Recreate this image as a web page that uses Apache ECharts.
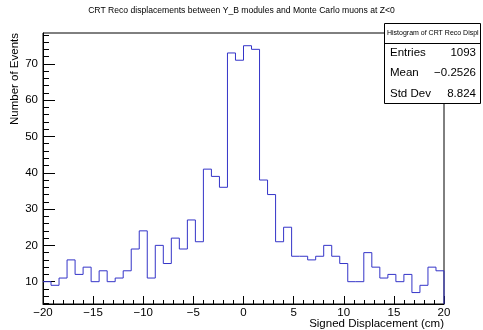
<!DOCTYPE html>
<html>
<head>
<meta charset="utf-8">
<script src="https://cdn.jsdelivr.net/npm/echarts@6/dist/echarts.min.js"></script>
<style>
  html, body { margin: 0; padding: 0; background: #fff; }
  #chart { width: 483px; height: 330px; }
</style>
</head>
<body>
<div id="chart"></div>
<script>
// Histogram binning: 50 bins of 0.8 cm from -20 to 20
const binLow = -20;
const binWidth = 0.8;
const counts = [
  10, 9, 11, 16, 12, 14, 10, 13, 10, 11,
  13, 19, 24, 11, 20, 15, 22, 19, 27, 21,
  41, 39, 36, 73, 71, 75, 74, 38, 34, 21,
  25, 17, 17, 16, 17, 20, 17, 15, 10, 10,
  18, 14, 11, 12, 10, 12, 7, 9, 14, 13
];

// Axis ranges and tick positions
const xRange = [-20, 20];
const yRange = [3.85, 78.5];
const yMajorTicks = [10, 20, 30, 40, 50, 60, 70];
const yMinorTicks = [4, 6, 8, 12, 14, 16, 18, 22, 24, 26, 28, 32, 34, 36, 38,
                     42, 44, 46, 48, 52, 54, 56, 58, 62, 64, 66, 68, 72, 74, 76, 78];

// Statistics box text
const statsTitle = 'Histogram of CRT Reco Displ';
const statsRows = [
  ['Entries', '1093'],
  ['Mean', '\u22120.2526'],
  ['Std Dev', '8.824']
];

const chartTitle = 'CRT Reco displacements between Y_B modules and Monte Carlo muons at Z<0';
const xTitle = 'Signed Displacement (cm)';
const yTitle = 'Number of Events';

// Step outline: left edge of every bin, closing at the upper edge and dropping to the axis floor
const stepData = counts.map((c, i) => [binLow + i * binWidth, c]);
const upperEdge = binLow + counts.length * binWidth;
stepData.push([upperEdge, counts[counts.length - 1]]);
stepData.push([upperEdge, yRange[0]]);

const font = '"Liberation Sans", Arial, Helvetica, sans-serif';
const minus = v => String(v).replace('-', '\u2212');

const chart = echarts.init(document.getElementById('chart'), null, { renderer: 'canvas' });

const gridLeft = 43, gridRight = 39, gridTop = 33, gridBottom = 26;

const statsX = 384, statsY = 23, statsW = 96, statsH = 80;
const graphics = [
  {
    type: 'rect', z: 100,
    shape: { x: statsX + 0.5, y: statsY + 0.5, width: statsW, height: statsH },
    style: { fill: '#fff', stroke: '#000', lineWidth: 1 }
  },
  {
    type: 'line', z: 101,
    shape: { x1: statsX, y1: statsY + 20.5, x2: statsX + statsW, y2: statsY + 20.5 },
    style: { stroke: '#000', lineWidth: 1 }
  },
  {
    type: 'text', z: 101, x: statsX + 3, y: statsY + 10,
    style: { text: statsTitle, font: '7px ' + font, fill: '#000', verticalAlign: 'middle' }
  }
];
statsRows.forEach((row, i) => {
  const cy = statsY + 29.5 + i * 20.5;
  graphics.push({
    type: 'text', z: 101, x: statsX + 6, y: cy,
    style: { text: row[0], font: '11.5px ' + font, fill: '#000', verticalAlign: 'middle' }
  });
  graphics.push({
    type: 'text', z: 101, x: statsX + statsW - 4, y: cy,
    style: { text: row[1], font: '11.5px ' + font, fill: '#000', verticalAlign: 'middle', align: 'right' }
  });
});
// Chart title and x-axis title (right-aligned to the frame edge)
graphics.push({
  type: 'text', z: 101, x: 241.5, y: 11,
  style: { text: chartTitle, font: '8.6px ' + font, fill: '#000', align: 'center', verticalAlign: 'middle' }
});
graphics.push({
  type: 'text', z: 101, x: 444, y: 324,
  style: { text: xTitle, font: '11.5px ' + font, fill: '#000', align: 'right', verticalAlign: 'middle' }
});

chart.setOption({
  animation: false,
  backgroundColor: '#fff',
  grid: {
    left: gridLeft, right: gridRight, top: gridTop, bottom: gridBottom,
    outerBoundsMode: 'none',
    containLabel: false,
    show: true, borderColor: '#000', borderWidth: 1, backgroundColor: 'transparent'
  },
  xAxis: {
    type: 'value',
    min: xRange[0], max: xRange[1], interval: 5,
    axisLine: { show: true, onZero: false, lineStyle: { color: '#000', width: 1 } },
    axisTick: { show: true, inside: true, length: 8, lineStyle: { color: '#000' } },
    minorTick: { show: true, splitNumber: 5, length: 4, lineStyle: { color: '#000' } },
    axisLabel: {
      fontFamily: font, fontSize: 11.5, color: '#000', margin: 3,
      formatter: v => minus(v)
    },
    splitLine: { show: false },
    minorSplitLine: { show: false }
  },
  yAxis: [
    {
      type: 'value',
      min: yRange[0], max: yRange[1],
      name: yTitle,
      nameLocation: 'end',
      nameRotate: 90,
      nameGap: 0,
      nameTextStyle: {
        fontFamily: font, fontSize: 11.5, color: '#000',
        align: 'right', verticalAlign: 'bottom', padding: [0, 0, 22, 0]
      },
      axisLine: { show: true, onZero: false, lineStyle: { color: '#000', width: 1 } },
      axisTick: {
        show: true, inside: true, length: 12, customValues: yMajorTicks,
        lineStyle: { color: '#000' }
      },
      axisLabel: {
        fontFamily: font, fontSize: 11.5, color: '#000', margin: 5,
        customValues: yMajorTicks
      },
      splitLine: { show: false }
    },
    {
      type: 'value',
      position: 'left',
      min: yRange[0], max: yRange[1],
      axisLine: { show: false, onZero: false },
      axisTick: {
        show: true, inside: true, length: 6, customValues: yMinorTicks,
        lineStyle: { color: '#000' }
      },
      axisLabel: { show: false },
      splitLine: { show: false }
    }
  ],
  series: [
    {
      type: 'line',
      step: 'end',
      data: stepData,
      symbol: 'none',
      z: 10,
      lineStyle: { color: '#3434c8', width: 1 },
      clip: false
    }
  ],
  graphic: graphics
});
</script>
</body>
</html>
